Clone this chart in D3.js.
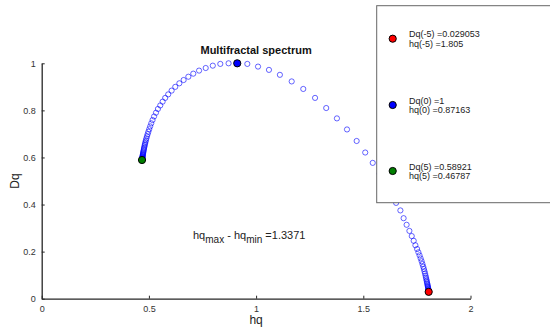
<!DOCTYPE html>
<html><head><meta charset="utf-8">
<script src="https://cdn.jsdelivr.net/npm/d3@7"></script>
<style>body{margin:0;background:#fff}svg{display:block;font-family:"Liberation Sans",Arial,sans-serif}</style>
</head><body><svg id="c" width="550" height="327"></svg>
<script>
// q from -5 to 5 step 0.1
const hq = [
1.805,1.8046,1.8041,1.8035,1.8029,1.8022,1.8014,1.8005,1.7995,1.7983,
1.797,1.7956,1.794,1.7923,1.7903,1.788,1.7855,1.7827,1.7795,1.776,
1.772,1.7675,1.7625,1.757,1.751,1.743,1.735,1.726,1.715,1.702,
1.688,1.673,1.653,1.630,1.604,1.576,1.544,1.509,1.469,1.424,
1.377,1.327,1.275,1.220,1.166,1.111,1.060,1.009,0.959,0.912,
0.87163,
0.833,0.798,0.765,0.734,0.707,0.684,0.662,0.642,0.623,0.606,
0.590,0.576,0.564,0.553,0.542,0.533,0.524,0.517,0.511,0.506,
0.5015,0.4975,0.494,0.491,0.4883,0.486,0.484,0.4822,0.4806,0.4792,
0.4779,0.4767,0.4756,0.4746,0.4737,0.4729,0.4722,0.4716,0.4711,0.4706,
0.4702,0.4698,0.4695,0.4692,0.4689,0.4686,0.4684,0.4682,0.46805,0.46787];
const Dq = [
0.029053,0.0325,0.036,0.039,0.042,0.046,0.050,0.054,0.059,0.064,
0.070,0.076,0.083,0.090,0.098,0.107,0.116,0.126,0.136,0.147,
0.159,0.171,0.184,0.197,0.211,0.227,0.246,0.266,0.288,0.314,
0.342,0.375,0.407,0.443,0.484,0.531,0.577,0.621,0.670,0.719,
0.766,0.810,0.853,0.891,0.923,0.951,0.972,0.986,0.9974,0.9995,
1.0,
0.9974,0.990,0.980,0.969,0.956,0.943,0.929,0.915,0.900,0.884,
0.868,0.853,0.837,0.821,0.806,0.790,0.774,0.759,0.745,0.732,
0.720,0.709,0.699,0.690,0.681,0.673,0.666,0.659,0.653,0.647,
0.641,0.636,0.631,0.626,0.622,0.618,0.614,0.611,0.608,0.605,
0.6025,0.600,0.598,0.596,0.5945,0.593,0.5918,0.5906,0.5898,0.58921];

const markHq = [1.805, 0.912, 0.46787];
const markDq = [0.029053, 1.0, 0.58921];
const markColors = ["#ff0000", "#0000ff", "#007f00"];
const legendLines = [
  ["Dq(-5) =0.029053", "hq(-5) =1.805"],
  ["Dq(0) =1", "hq(0) =0.87163"],
  ["Dq(5) =0.58921", "hq(5) =0.46787"]];
const xTicks = [0, 0.5, 1, 1.5, 2];
const yTicks = [0, 0.2, 0.4, 0.6, 0.8, 1];
const title = "Multifractal spectrum";
const rangeText = "1.3371";

const svg = d3.select("#c");
const x = d3.scaleLinear().domain([0, 2]).range([41.7, 470.5]);
const y = d3.scaleLinear().domain([0, 1]).range([298.7, 63.3]);

const axCol = "#262626";
const gx = svg.append("g").attr("transform", `translate(0,${y(0)})`)
  .call(d3.axisBottom(x).tickValues(xTicks).tickSizeInner(-3).tickSizeOuter(0).tickPadding(7)
    .tickFormat(d => d3.format("")(d)));
const gy = svg.append("g").attr("transform", `translate(${x(0)},0)`)
  .call(d3.axisLeft(y).tickValues(yTicks).tickSizeInner(-3).tickSizeOuter(0).tickPadding(6)
    .tickFormat(d => d3.format("")(d)));
[gx, gy].forEach(g => {
  g.select(".domain").attr("stroke", axCol).attr("stroke-width", 1.3);
  g.selectAll(".tick line").attr("stroke", axCol).attr("stroke-width", 1);
  g.selectAll(".tick text").attr("fill", "#333").attr("font-size", 9)
    .attr("font-family", "Liberation Sans, Arial, sans-serif");
});

svg.append("text").attr("x", (x(0)+x(2))/2).attr("y", 324).attr("text-anchor", "middle")
  .attr("font-size", 12).attr("fill", "#222").text("hq");
svg.append("text").attr("transform", `translate(19,${(y(0)+y(1))/2}) rotate(-90)`)
  .attr("text-anchor", "middle").attr("font-size", 12).attr("fill", "#222").text("Dq");

svg.append("text").attr("x", (x(0)+x(2))/2).attr("y", 54).attr("text-anchor", "middle")
  .attr("font-size", 11).attr("font-weight", "bold").attr("fill", "#111").text(title);

// spectrum points
svg.append("g").selectAll("circle").data(hq.map((h, i) => [h, Dq[i]])).join("circle")
  .attr("cx", d => x(d[0])).attr("cy", d => y(d[1])).attr("r", 2.6)
  .attr("fill", "none").attr("stroke", "#0000ff").attr("stroke-opacity", 0.6).attr("stroke-width", 1);

// marked points
svg.append("g").selectAll("circle").data(markHq.map((h, i) => [h, markDq[i], markColors[i]])).join("circle")
  .attr("cx", d => x(d[0])).attr("cy", d => y(d[1])).attr("r", 3.6)
  .attr("fill", d => d[2]).attr("stroke", "#000").attr("stroke-width", 1);

// annotation
const ann = svg.append("text").attr("x", 193).attr("y", 239).attr("font-size", 11).attr("fill", "#222");
ann.append("tspan").text("hq");
ann.append("tspan").attr("dy", 4).attr("font-size", 10).text("max");
ann.append("tspan").attr("dy", -4).text(" - hq");
ann.append("tspan").attr("dy", 4).attr("font-size", 10).text("min");
ann.append("tspan").attr("dy", -4).text(" =" + rangeText);

// legend
const lg = svg.append("g");
lg.append("rect").attr("x", 376.7).attr("y", 5.7).attr("width", 200).attr("height", 197)
  .attr("fill", "#fff").attr("stroke", "#666").attr("stroke-width", 1);
const legY = [38.7, 105, 171];
legendLines.forEach((lines, i) => {
  lg.append("circle").attr("cx", 392.7).attr("cy", legY[i]).attr("r", 3.6)
    .attr("fill", markColors[i]).attr("stroke", "#000").attr("stroke-width", 1);
  lines.forEach((t, j) => {
    lg.append("text").attr("x", 409).attr("y", legY[i] - 1.5 + j * 9.7).attr("font-size", 9)
      .attr("fill", "#222").text(t);
  });
});
</script></body></html>
